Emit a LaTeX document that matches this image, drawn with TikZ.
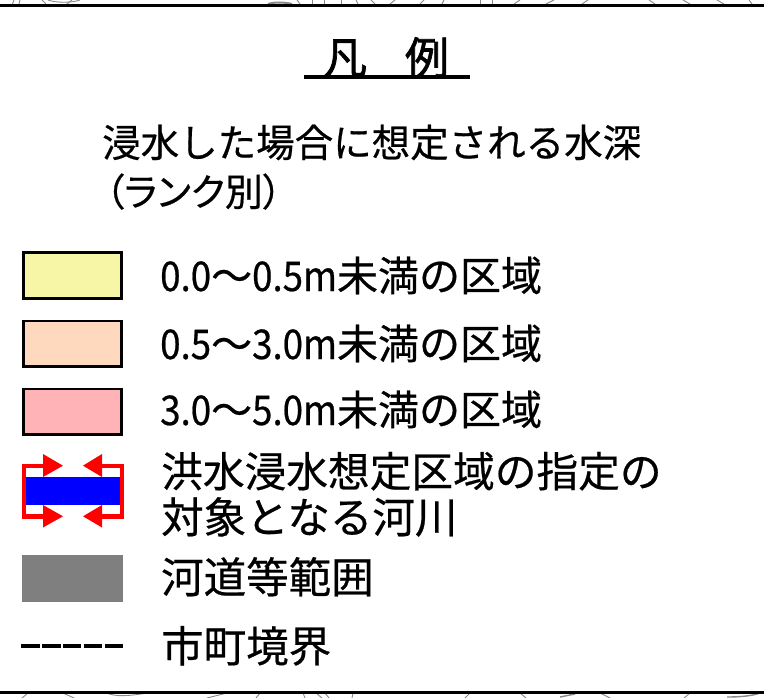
\documentclass[tikz,border=0pt]{standalone}
\usepackage{fontspec}
\setmainfont[FakeBold=0.5]{Noto Sans CJK JP}
\newfontfamily\narrowlat[FakeStretch=0.895,FakeBold=0.5]{Noto Sans CJK JP}
\newfontfamily\propfont[RawFeature=+palt,FakeBold=0.5]{Noto Sans CJK JP}
\newfontfamily\titlefont[FakeBold=1.6]{Noto Sans CJK JP}
\definecolor{swyellow}{HTML}{F6F6A6}
\definecolor{swpeach}{HTML}{FFD9BD}
\definecolor{swpink}{HTML}{FFB3B6}
\definecolor{swgray}{HTML}{7F7F7F}
\definecolor{mapline}{HTML}{8A8A8A}
\tikzset{
  x=1pt,y=-1pt,
  label text/.style={inner sep=0pt,anchor=base west,font=\fontsize{41.7}{41.7}\selectfont},
  wide text/.style={inner sep=0pt,anchor=base west,font=\fontsize{42.5}{42.5}\selectfont},
  rank text/.style={inner sep=0pt,anchor=base west,font=\fontsize{41}{41}\selectfont},
  head text/.style={inner sep=0pt,anchor=base west,font=\fontsize{38.5}{38.5}\selectfont},
  sub text/.style={inner sep=0pt,anchor=base west,font=\fontsize{38}{38}\selectfont\propfont},
  title text/.style={inner sep=0pt,anchor=base,font=\fontsize{44}{44}\selectfont\titlefont},
  swatch/.style={draw=black,line width=2.6pt,minimum width=98.4pt,minimum height=45.4pt,inner sep=0pt,anchor=center},
  frame line/.style={draw=black,line width=2.8pt},
  map line/.style={draw=mapline,line width=0.9pt},
  red frame/.style={draw=red,line width=4.4pt,line join=miter},
  red head/.style={fill=red,draw=none},
}
\newcommand{\rng}[3]{{\narrowlat #1}〜{\narrowlat #2m}#3}
\begin{document}
\begin{tikzpicture}
\useasboundingbox (0,0) rectangle (764,698);
\fill[white] (0,0) rectangle (764,698);
\begin{scope}
\clip (0,0) rectangle (764,698);
% map fragments above the panel
\foreach \a/\b in {14/12.5,20/19,42/46,72/67,297/300,312/312,324/324,341/341,356/358,371/375,395/390,424/420,444/442,480/480,492/492,520/514,554/546,588/582,649/655,683/690,717/724,749/752}
  \draw[map line] (\a,0) -- (\b,4);
\draw[map line] (48,0) .. controls (56,3) and (72,3) .. (80,0);
\draw[draw=mapline,line width=2pt] (268,4) .. controls (274,2) and (284,2) .. (292,4);
% map fragments below the panel
\foreach \a/\b in {28/22,63/74,260/256,303/305,316/322,325/329,353/352,470/465,520/526,600/610,690/684}
  \draw[map line] (\a,693) -- (\b,698);
\draw[map line] (107,693) .. controls (115,697) and (130,696) .. (147,693);
\draw[map line] (207,698) -- (227,693);
\draw[draw=mapline,line width=1.4pt] (560,697) -- (575,694);
\draw[draw=mapline,line width=1.4pt] (727,697) .. controls (740,697) and (752,696) .. (760,693);
\end{scope}
% panel borders
\coordinate (tl) at (0,5.3);
\coordinate (tr) at (764,5.3);
\coordinate (bl) at (0,692.4);
\coordinate (br) at (764,692.4);
\draw[frame line] (tl) -- (tr);
\draw[frame line] (bl) -- (br);
% title
\node[title text] (title) at (386,74) {凡\hspace{38pt}例};
\coordinate (ula) at (304,77);
\coordinate (ulb) at (470,77);
\draw[draw=black,line width=4.5pt] (ula) -- (ulb);
% heading
\node[head text] (h1) at (102,157) {浸水した場合に想定される水深};
\node[sub text] (h2) at (105,206) {（ランク別）};
% swatches
\node[swatch,fill=swyellow] (s1) at (72.5,275.5) {};
\node[swatch,fill=swpeach] (s2) at (72.5,343.5) {};
\node[swatch,fill=swpink] (s3) at (72.5,411.5) {};
\node[rank text] (l1) at (160,291) {\rng{0.0}{0.5}{未満の区域}};
\node[rank text] (l2) at (160,359) {\rng{0.5}{3.0}{未満の区域}};
\node[rank text] (l3) at (160,425) {\rng{3.0}{5.0}{未満の区域}};
% river symbol
\fill[blue] (26,476.7) rectangle (120,505);
\draw[red frame] (45,465.7) -- (23.8,465.7) -- (23.8,516.3) -- (45,516.3);
\draw[red frame] (100,465.7) -- (122,465.7) -- (122,516.3) -- (100,516.3);
\fill[red head] (43,454) -- (63,465.7) -- (43,477) -- cycle;
\fill[red head] (102,454) -- (83,465.7) -- (102,477) -- cycle;
\fill[red head] (43,505) -- (63,516.3) -- (43,527.5) -- cycle;
\fill[red head] (102,505) -- (83,516.3) -- (102,527.5) -- cycle;
\node[label text] (l4) at (161,487) {洪水浸水想定区域の指定の};
\node[wide text] (l5) at (161,533) {対象となる河川};
% channel swatch
\fill[swgray] (22,555) rectangle (123,601.7);
\node[wide text] (l6) at (161,593) {河道等範囲};
% boundary sample
\coordinate (da) at (21.3,646);
\coordinate (db) at (123.3,646);
\draw[draw=black,line width=4.5pt,dash pattern=on 18.4pt off 2.4pt] (da) -- (db);
\node[wide text] (l7) at (161,662) {市町境界};
\end{tikzpicture}
\end{document}
